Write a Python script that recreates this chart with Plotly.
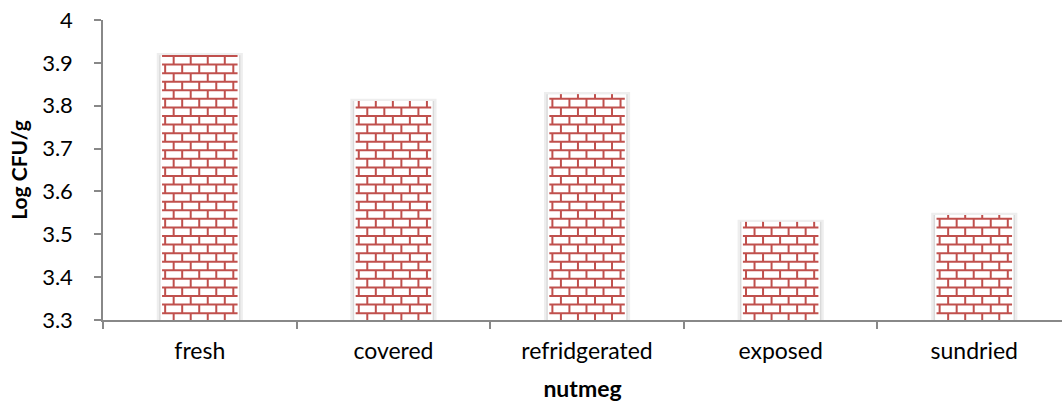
import plotly.graph_objects as go

categories = ["fresh", "covered", "refridgerated", "exposed", "sundried"]
values = [3.918, 3.811, 3.827, 3.529, 3.545]
y_ticks = [3.3, 3.4, 3.5, 3.6, 3.7, 3.8, 3.9, 4.0]

Y_MIN, Y_MAX = 3.3, 4.0
BRICK_H = 0.02      # brick row height (data units)
BRICK_W = 0.088     # brick width (category units)
BRICK_OFF = 0.016   # first mortar line above baseline
BAR_W = 0.39
BRICK_COLOR = "#C0504D"
AXIS_COLOR = "#888888"
FONT = "Lato"

xpos = list(range(len(categories)))
x_range = [-0.5, 4.453]

fig = go.Figure()

# shadow / frame layers
fig.add_trace(go.Bar(x=xpos, y=[v + 0.005 for v in values], width=0.445,
                     marker=dict(color="#eeeeee", line=dict(width=0)), hoverinfo="skip"))
fig.add_trace(go.Bar(x=xpos, y=values, width=0.42,
                     marker=dict(color="#dadada", line=dict(width=0)), hoverinfo="skip"))
fig.add_trace(go.Bar(x=xpos, y=values, width=0.405,
                     marker=dict(color="white", line=dict(width=0)), hoverinfo="skip"))

# brick pattern
bx, by = [], []
for xc, v in zip(xpos, values):
    x0, x1 = xc - BAR_W / 2, xc + BAR_W / 2
    k = -1
    while True:
        ylo = Y_MIN + BRICK_OFF + k * BRICK_H
        yhi = ylo + BRICK_H
        if ylo >= v:
            break
        if Y_MIN <= ylo <= v:
            bx += [x0, x1, None]
            by += [ylo, ylo, None]
        a = max(ylo, Y_MIN)
        b = min(yhi, v)
        if b > a:
            off = 0.016 if k % 2 == 0 else 0.016 + BRICK_W / 2
            xv = x0 + off
            while xv < x1 - 0.004:
                bx += [xv, xv, None]
                by += [a, b, None]
                xv += BRICK_W
        k += 1

fig.add_trace(go.Scatter(x=bx, y=by, mode="lines",
                         line=dict(color=BRICK_COLOR, width=2),
                         hoverinfo="skip", showlegend=False))

# invisible trace for the label axis
fig.add_trace(go.Scatter(x=xpos, y=values, xaxis="x2", mode="markers",
                         marker=dict(opacity=0), hoverinfo="skip", showlegend=False))

fig.update_layout(
    width=1062, height=407,
    margin=dict(l=103, r=0, t=20, b=87),
    paper_bgcolor="white", plot_bgcolor="white",
    barmode="overlay", showlegend=False,
    font=dict(family=FONT, size=23, color="#000000"),
    xaxis=dict(range=x_range, tickvals=[i - 0.5 for i in range(len(categories) + 1)],
               showticklabels=False, ticks="outside", ticklen=7, tickwidth=1.5,
               tickcolor=AXIS_COLOR, showline=True, linecolor=AXIS_COLOR, linewidth=1.5,
               showgrid=False, zeroline=False, fixedrange=True),
    xaxis2=dict(overlaying="x", anchor="y", side="bottom", range=x_range,
                tickvals=xpos, ticktext=categories, ticks="", showline=False,
                showgrid=False, zeroline=False, ticklabelstandoff=15,
                tickfont=dict(family=FONT, size=23),
                title=dict(text="<b>nutmeg</b>", font=dict(family=FONT, size=23), standoff=17)),
    yaxis=dict(range=[Y_MIN, Y_MAX], tickvals=y_ticks, ticks="outside", ticklen=7,
               tickwidth=1.5, tickcolor=AXIS_COLOR, showline=True, linecolor=AXIS_COLOR,
               linewidth=1.5, showgrid=False, zeroline=False, ticklabelstandoff=17,
               tickfont=dict(family=FONT, size=22),
               title=dict(text="<b>Log CFU/g</b>", font=dict(family=FONT, size=21), standoff=9)),
)

fig.write_html("out.html")
